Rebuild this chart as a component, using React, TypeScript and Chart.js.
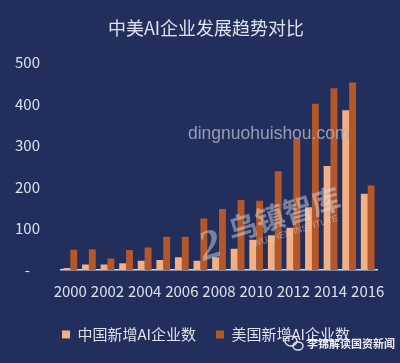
import React, { useEffect, useRef } from "react";
import { Chart, registerables } from "chart.js";

Chart.register(...registerables);

const years = ["2000","2001","2002","2003","2004","2005","2006","2007","2008","2009","2010","2011","2012","2013","2014","2015","2016"];
const chinaNew = [5, 13, 13, 16, 22, 24, 31, 22, 31, 51, 73, 83, 102, 151, 251, 385, 184];
const usNew = [49, 50, 28, 48, 54, 80, 80, 124, 147, 169, 167, 238, 317, 401, 438, 452, 204];
const yTickValues = [0, 100, 200, 300, 400, 500];

const titleText = "中美AI企业发展趋势对比";
const chinaLabel = "中国新增AI企业数";
const usLabel = "美国新增AI企业数";
const siteMark = "dingnuohuishou.com";
const logoMark = "乌镇智库";
const logoSub = "WUZHEN INSTITUTE";
const wechatMark = "李锦解读国资新闻";

const BG = "#222e5c";
const TEXT = "#dde1ea";
const FONT = "'Noto Sans CJK SC', 'Noto Sans', sans-serif";

const watermarkPlugin = {
  id: "watermarks",
  afterDatasetsDraw(chart: any) {
    const ctx = chart.ctx as CanvasRenderingContext2D;
    ctx.save();
    ctx.font = "17.5px 'Liberation Sans', Arial, sans-serif";
    ctx.fillStyle = "rgba(170,176,194,0.85)";
    ctx.textAlign = "left";
    ctx.textBaseline = "middle";
    ctx.fillText(siteMark, 188, 134);
    ctx.translate(284, 214);
    ctx.rotate(-0.3);
    ctx.fillStyle = "rgba(225,230,240,0.45)";
    ctx.font = "bold 29px " + FONT;
    ctx.textAlign = "center";
    ctx.fillText(logoMark, 0, 0);
    ctx.font = "9px 'Liberation Sans', Arial, sans-serif";
    ctx.fillText(logoSub, 6, 20);
    ctx.font = "italic bold 42px 'Liberation Serif', serif";
    ctx.fillText("2", -80, 10);
    ctx.restore();
  },
  afterDraw(chart: any) {
    const ctx = chart.ctx as CanvasRenderingContext2D;
    ctx.save();
    ctx.strokeStyle = "rgba(235,238,245,0.9)";
    ctx.lineWidth = 1.5;
    ctx.beginPath();
    ctx.ellipse(291, 341, 6, 5, 0, 0, Math.PI * 2);
    ctx.stroke();
    ctx.beginPath();
    ctx.ellipse(298, 346, 5, 4, 0, 0, Math.PI * 2);
    ctx.stroke();
    ctx.fillStyle = "rgba(245,247,250,0.95)";
    ctx.font = "bold 11px " + FONT;
    ctx.textAlign = "left";
    ctx.textBaseline = "middle";
    ctx.fillText(wechatMark, 307, 344);
    ctx.restore();
  },
};

export default function App() {
  const ref = useRef<HTMLCanvasElement | null>(null);

  useEffect(() => {
    document.body.style.margin = "0";
    const canvas = ref.current;
    if (!canvas) return;
    const chart = new Chart(canvas, {
      type: "bar",
      data: {
        labels: years,
        datasets: [
          {
            label: chinaLabel,
            data: chinaNew,
            backgroundColor: "#f2b084",
            categoryPercentage: 0.74,
            barPercentage: 1,
          },
          {
            label: usLabel,
            data: usNew,
            backgroundColor: "#b4582a",
            categoryPercentage: 0.74,
            barPercentage: 1,
          },
        ],
      },
      options: {
        animation: false,
        responsive: false,
        maintainAspectRatio: false,
        layout: { padding: { left: 12, right: 0, top: 0, bottom: 11 } },
        font: { family: FONT },
        plugins: {
          title: {
            display: true,
            text: titleText,
            color: TEXT,
            font: { family: FONT, size: 18, weight: "normal" },
            padding: { top: 17, bottom: 24 },
          },
          legend: {
            position: "bottom",
            labels: {
              color: TEXT,
              font: { family: FONT, size: 15 },
              boxWidth: 8,
              boxHeight: 8,
              padding: 20,
            },
          },
          tooltip: { enabled: false },
        },
        scales: {
          x: {
            grid: { display: false, drawTicks: false },
            border: { display: true, color: "#d6d9e2", width: 1.5 },
            ticks: {
              color: TEXT,
              font: { family: FONT, size: 15 },
              autoSkip: false,
              maxRotation: 0,
              padding: 12,
              callback: (_v: any, i: number) => (i % 2 === 0 ? years[i] : ""),
            },
            afterFit: (s: any) => {
              s.height = 37;
            },
          },
          y: {
            min: 0,
            max: 500,
            grid: { display: false, drawTicks: false },
            border: { display: false },
            afterBuildTicks: (s: any) => {
              s.ticks = yTickValues.map((v) => ({ value: v }));
            },
            ticks: {
              color: TEXT,
              font: { family: FONT, size: 15 },
              padding: 21,
              callback: (v: any) => (Number(v) === 0 ? "-   " : String(v)),
            },
            afterFit: (s: any) => {
              s.width = 49;
            },
          },
          yRight: {
            type: "linear",
            position: "right",
            display: true,
            grid: { display: false, drawTicks: false },
            border: { display: false },
            ticks: { display: false },
            afterFit: (s: any) => {
              s.width = 23;
            },
          },
        },
      },
      plugins: [watermarkPlugin],
    });
    return () => chart.destroy();
  }, []);

  return (
    <div style={{ position: "fixed", left: 0, top: 0, width: 400, height: 363, background: BG }}>
      <canvas ref={ref} width={400} height={363} style={{ display: "block", width: 400, height: 363 }} />
    </div>
  );
}
